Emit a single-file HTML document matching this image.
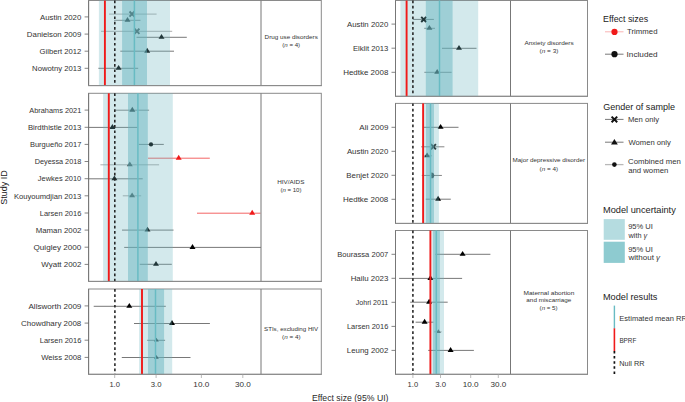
<!DOCTYPE html><html><head><meta charset="utf-8"><style>html,body{margin:0;padding:0;background:#fff;overflow:hidden}svg{display:block}</style></head><body><svg width="685" height="402" viewBox="0 0 685 402" font-family='"Liberation Sans", sans-serif'><rect width="685" height="402" fill="#fff"/><rect x="88.6" y="0.5" width="232.70000000000002" height="85.1" fill="none" stroke="#8a8a8a" stroke-width="1"/><line x1="109" y1="14.1" x2="156.6" y2="14.1" stroke="#999" stroke-width="0.8"/><line x1="114" y1="20.3" x2="140.5" y2="20.3" stroke="#666" stroke-width="0.8"/><line x1="101" y1="31.3" x2="172.2" y2="31.3" stroke="#999" stroke-width="0.8"/><line x1="136.5" y1="37.3" x2="186.8" y2="37.3" stroke="#555" stroke-width="0.8"/><line x1="120.3" y1="51.2" x2="174" y2="51.2" stroke="#555" stroke-width="0.8"/><line x1="98.4" y1="68.3" x2="138.2" y2="68.3" stroke="#555" stroke-width="0.8"/><path d="M129.5 11.5L134.5 16.7M134.5 11.5L129.5 16.7" stroke="#333" stroke-width="1.9"/><path d="M127.5 16.900000000000002L130.5 21.8L124.5 21.8Z" fill="#111"/><path d="M134.4 28.7L139.4 33.9M139.4 28.7L134.4 33.9" stroke="#333" stroke-width="1.9"/><path d="M161.5 33.9L164.5 38.8L158.5 38.8Z" fill="#000"/><path d="M147.2 47.800000000000004L150.2 52.7L144.2 52.7Z" fill="#000"/><path d="M118.6 64.89999999999999L121.6 69.8L115.6 69.8Z" fill="#000"/><rect x="98.9" y="0.5" width="71.1" height="85.1" fill="rgb(108,182,192)" fill-opacity="0.3"/><rect x="122.1" y="0.5" width="24.900000000000006" height="85.1" fill="rgb(100,180,190)" fill-opacity="0.48"/><line x1="134.4" y1="0.5" x2="134.4" y2="85.6" stroke="#68bbc3" stroke-width="1.5"/><line x1="104.9" y1="0.5" x2="104.9" y2="85.6" stroke="#f01a1a" stroke-width="1.9"/><line x1="114.8" y1="0.5" x2="114.8" y2="85.6" stroke="#222" stroke-width="1.55" stroke-dasharray="2.7 2.6"/><line x1="88.6" y1="0.5" x2="88.6" y2="85.6" stroke="#777777" stroke-width="1"/><line x1="261.0" y1="0.5" x2="261.0" y2="85.6" stroke="#777777" stroke-width="1"/><line x1="88.1" y1="85.6" x2="321.8" y2="85.6" stroke="#8a8a8a" stroke-width="1"/><line x1="84.6" y1="16.9" x2="88.6" y2="16.9" stroke="#666" stroke-width="0.8"/><text x="40.00" y="19.65" font-size="7.9" textLength="41.29" lengthAdjust="spacingAndGlyphs" fill="#333333">Austin 2020</text><line x1="84.6" y1="34.1" x2="88.6" y2="34.1" stroke="#666" stroke-width="0.8"/><text x="26.87" y="36.85" font-size="7.9" textLength="54.48" lengthAdjust="spacingAndGlyphs" fill="#333333">Danielson 2009</text><line x1="84.6" y1="51.2" x2="88.6" y2="51.2" stroke="#666" stroke-width="0.8"/><text x="39.62" y="53.95" font-size="7.9" textLength="41.75" lengthAdjust="spacingAndGlyphs" fill="#333333">Gilbert 2012</text><line x1="84.6" y1="68.3" x2="88.6" y2="68.3" stroke="#666" stroke-width="0.8"/><text x="32.08" y="71.05" font-size="7.9" textLength="49.25" lengthAdjust="spacingAndGlyphs" fill="#333333">Nowotny 2013</text><text x="264.60" y="38.60" font-size="5.9" textLength="53.22" lengthAdjust="spacingAndGlyphs" fill="#333">Drug use disorders</text><text x="282.23" y="46.90" font-size="5.9" textLength="17.93" lengthAdjust="spacingAndGlyphs" fill="#333">(<tspan font-style="italic">n</tspan> = 4)</text><rect x="88.6" y="93.3" width="232.70000000000002" height="188.09999999999997" fill="none" stroke="#8a8a8a" stroke-width="1"/><line x1="114.9" y1="110.2" x2="149.1" y2="110.2" stroke="#666" stroke-width="0.8"/><line x1="88.6" y1="127.4" x2="137.5" y2="127.4" stroke="#555" stroke-width="0.8"/><line x1="138.8" y1="144.4" x2="163.8" y2="144.4" stroke="#555" stroke-width="0.8"/><line x1="148" y1="158.2" x2="209.8" y2="158.2" stroke="#f03c3c" stroke-width="0.8"/><line x1="100.4" y1="164.8" x2="159.1" y2="164.8" stroke="#999" stroke-width="0.8"/><line x1="88.6" y1="178.8" x2="142.7" y2="178.8" stroke="#555" stroke-width="0.8"/><line x1="122.8" y1="195.8" x2="141.2" y2="195.8" stroke="#999" stroke-width="0.8"/><line x1="197" y1="213.2" x2="260.5" y2="213.2" stroke="#f03c3c" stroke-width="0.8"/><line x1="122" y1="230.1" x2="173.5" y2="230.1" stroke="#555" stroke-width="0.8"/><line x1="124.2" y1="247.4" x2="261" y2="247.4" stroke="#555" stroke-width="0.8"/><line x1="139.8" y1="264.3" x2="171.8" y2="264.3" stroke="#555" stroke-width="0.8"/><path d="M132.3 106.8L135.3 111.7L129.3 111.7Z" fill="#111"/><path d="M112.4 124.0L115.4 128.9L109.4 128.9Z" fill="#000"/><circle cx="151.0" cy="144.4" r="2.1" fill="#000"/><path d="M178.7 154.79999999999998L181.7 159.7L175.7 159.7Z" fill="#f01a1a"/><path d="M129.8 161.4L132.8 166.3L126.80000000000001 166.3Z" fill="#333"/><path d="M114.4 175.4L117.4 180.3L111.4 180.3Z" fill="#000"/><path d="M132.1 192.4L135.1 197.3L129.1 197.3Z" fill="#333"/><path d="M252.2 209.79999999999998L255.2 214.7L249.2 214.7Z" fill="#f01a1a"/><path d="M147.5 226.7L150.5 231.6L144.5 231.6Z" fill="#000"/><path d="M192.5 244.0L195.5 248.9L189.5 248.9Z" fill="#000"/><path d="M156.0 260.90000000000003L159.0 265.8L153.0 265.8Z" fill="#000"/><rect x="103.1" y="93.3" width="69.70000000000002" height="188.09999999999997" fill="rgb(108,182,192)" fill-opacity="0.3"/><rect x="128.0" y="93.3" width="19.80000000000001" height="188.09999999999997" fill="rgb(100,180,190)" fill-opacity="0.48"/><line x1="137.9" y1="93.3" x2="137.9" y2="281.4" stroke="#68bbc3" stroke-width="1.5"/><line x1="108.8" y1="93.3" x2="108.8" y2="281.4" stroke="#f01a1a" stroke-width="1.9"/><line x1="114.8" y1="93.3" x2="114.8" y2="281.4" stroke="#222" stroke-width="1.55" stroke-dasharray="2.7 2.6"/><line x1="88.6" y1="93.3" x2="88.6" y2="281.4" stroke="#777777" stroke-width="1"/><line x1="261.0" y1="93.3" x2="261.0" y2="281.4" stroke="#777777" stroke-width="1"/><line x1="88.1" y1="281.4" x2="321.8" y2="281.4" stroke="#8a8a8a" stroke-width="1"/><line x1="84.6" y1="110.1" x2="88.6" y2="110.1" stroke="#666" stroke-width="0.8"/><text x="29.30" y="112.85" font-size="7.9" textLength="52.03" lengthAdjust="spacingAndGlyphs" fill="#333333">Abrahams 2021</text><line x1="84.6" y1="127.3" x2="88.6" y2="127.3" stroke="#666" stroke-width="0.8"/><text x="27.88" y="130.05" font-size="7.9" textLength="53.46" lengthAdjust="spacingAndGlyphs" fill="#333333">Birdthistle 2013</text><line x1="84.6" y1="144.4" x2="88.6" y2="144.4" stroke="#666" stroke-width="0.8"/><text x="29.90" y="147.15" font-size="7.9" textLength="51.44" lengthAdjust="spacingAndGlyphs" fill="#333333">Burgueño 2017</text><line x1="84.6" y1="161.5" x2="88.6" y2="161.5" stroke="#666" stroke-width="0.8"/><text x="34.72" y="164.25" font-size="7.9" textLength="46.60" lengthAdjust="spacingAndGlyphs" fill="#333333">Deyessa 2018</text><line x1="84.6" y1="178.7" x2="88.6" y2="178.7" stroke="#666" stroke-width="0.8"/><text x="37.79" y="181.45" font-size="7.9" textLength="43.49" lengthAdjust="spacingAndGlyphs" fill="#333333">Jewkes 2010</text><line x1="84.6" y1="195.8" x2="88.6" y2="195.8" stroke="#666" stroke-width="0.8"/><text x="13.89" y="198.55" font-size="7.9" textLength="67.42" lengthAdjust="spacingAndGlyphs" fill="#333333">Kouyoumdjian 2013</text><line x1="84.6" y1="213.0" x2="88.6" y2="213.0" stroke="#666" stroke-width="0.8"/><text x="39.80" y="215.75" font-size="7.9" textLength="41.50" lengthAdjust="spacingAndGlyphs" fill="#333333">Larsen 2016</text><line x1="84.6" y1="230.1" x2="88.6" y2="230.1" stroke="#666" stroke-width="0.8"/><text x="35.67" y="232.85" font-size="7.9" textLength="45.70" lengthAdjust="spacingAndGlyphs" fill="#333333">Maman 2002</text><line x1="84.6" y1="247.2" x2="88.6" y2="247.2" stroke="#666" stroke-width="0.8"/><text x="33.54" y="249.95" font-size="7.9" textLength="47.77" lengthAdjust="spacingAndGlyphs" fill="#333333">Quigley 2000</text><line x1="84.6" y1="264.4" x2="88.6" y2="264.4" stroke="#666" stroke-width="0.8"/><text x="41.36" y="267.15" font-size="7.9" textLength="39.99" lengthAdjust="spacingAndGlyphs" fill="#333333">Wyatt 2002</text><text x="277.29" y="184.40" font-size="5.9" textLength="27.08" lengthAdjust="spacingAndGlyphs" fill="#333">HIV/AIDS</text><text x="280.44" y="192.00" font-size="5.9" textLength="21.02" lengthAdjust="spacingAndGlyphs" fill="#333">(<tspan font-style="italic">n</tspan> = 10)</text><rect x="88.6" y="289.0" width="232.70000000000002" height="85.30000000000001" fill="none" stroke="#8a8a8a" stroke-width="1"/><line x1="93.7" y1="306.3" x2="165.8" y2="306.3" stroke="#555" stroke-width="0.8"/><line x1="134" y1="323.5" x2="209.9" y2="323.5" stroke="#555" stroke-width="0.8"/><line x1="147.2" y1="340.3" x2="165.1" y2="340.3" stroke="#555" stroke-width="0.8"/><line x1="121.8" y1="357.5" x2="190.5" y2="357.5" stroke="#555" stroke-width="0.8"/><path d="M129.3 302.90000000000003L132.3 307.8L126.30000000000001 307.8Z" fill="#000"/><path d="M172.0 320.1L175.0 325.0L169.0 325.0Z" fill="#000"/><path d="M156.4 337.7L158.8 341.6L154.0 341.6Z" fill="#000"/><path d="M156.4 354.9L158.8 358.8L154.0 358.8Z" fill="#000"/><rect x="139.1" y="289.0" width="33.099999999999994" height="85.30000000000001" fill="rgb(108,182,192)" fill-opacity="0.3"/><rect x="148.0" y="289.0" width="16.099999999999994" height="85.30000000000001" fill="rgb(100,180,190)" fill-opacity="0.48"/><line x1="155.5" y1="289.0" x2="155.5" y2="374.3" stroke="#68bbc3" stroke-width="1.5"/><line x1="142.0" y1="289.0" x2="142.0" y2="374.3" stroke="#f01a1a" stroke-width="1.9"/><line x1="114.9" y1="289.0" x2="114.9" y2="374.3" stroke="#222" stroke-width="1.55" stroke-dasharray="2.7 2.6"/><line x1="88.6" y1="289.0" x2="88.6" y2="374.3" stroke="#777777" stroke-width="1"/><line x1="261.0" y1="289.0" x2="261.0" y2="374.3" stroke="#777777" stroke-width="1"/><line x1="88.1" y1="374.3" x2="321.8" y2="374.3" stroke="#8a8a8a" stroke-width="1"/><line x1="84.6" y1="305.9" x2="88.6" y2="305.9" stroke="#666" stroke-width="0.8"/><text x="28.50" y="308.65" font-size="7.9" textLength="52.86" lengthAdjust="spacingAndGlyphs" fill="#333333">Allsworth 2009</text><line x1="84.6" y1="323.1" x2="88.6" y2="323.1" stroke="#666" stroke-width="0.8"/><text x="21.10" y="325.85" font-size="7.9" textLength="60.22" lengthAdjust="spacingAndGlyphs" fill="#333333">Chowdhary 2008</text><line x1="84.6" y1="340.2" x2="88.6" y2="340.2" stroke="#666" stroke-width="0.8"/><text x="39.80" y="342.95" font-size="7.9" textLength="41.50" lengthAdjust="spacingAndGlyphs" fill="#333333">Larsen 2016</text><line x1="84.6" y1="357.4" x2="88.6" y2="357.4" stroke="#666" stroke-width="0.8"/><text x="41.16" y="360.15" font-size="7.9" textLength="40.16" lengthAdjust="spacingAndGlyphs" fill="#333333">Weiss 2008</text><text x="264.02" y="330.80" font-size="5.9" textLength="54.19" lengthAdjust="spacingAndGlyphs" fill="#333">STIs, excluding HIV</text><text x="282.12" y="338.50" font-size="5.9" textLength="18.45" lengthAdjust="spacingAndGlyphs" fill="#333">(<tspan font-style="italic">n</tspan> = 4)</text><rect x="395.5" y="0.5" width="192.0" height="95.8" fill="none" stroke="#8a8a8a" stroke-width="1"/><line x1="412.7" y1="19.4" x2="433.9" y2="19.4" stroke="#555" stroke-width="0.8"/><line x1="424.2" y1="28.3" x2="435" y2="28.3" stroke="#666" stroke-width="0.8"/><line x1="442" y1="48.3" x2="476.5" y2="48.3" stroke="#555" stroke-width="0.8"/><line x1="424.3" y1="72.3" x2="451.6" y2="72.3" stroke="#666" stroke-width="0.8"/><path d="M421.2 16.799999999999997L426.2 22.0M426.2 16.799999999999997L421.2 22.0" stroke="#000" stroke-width="1.9"/><path d="M429.4 24.900000000000002L432.4 29.8L426.4 29.8Z" fill="#111"/><path d="M459 44.9L462.0 49.8L456.0 49.8Z" fill="#000"/><path d="M437.2 68.89999999999999L440.2 73.8L434.2 73.8Z" fill="#111"/><rect x="400.4" y="0.5" width="77.80000000000001" height="95.8" fill="rgb(108,182,192)" fill-opacity="0.3"/><rect x="425.8" y="0.5" width="26.80000000000001" height="95.8" fill="rgb(100,180,190)" fill-opacity="0.48"/><line x1="439.5" y1="0.5" x2="439.5" y2="96.3" stroke="#68bbc3" stroke-width="1.5"/><line x1="406.6" y1="0.5" x2="406.6" y2="96.3" stroke="#f01a1a" stroke-width="1.9"/><line x1="412.9" y1="0.5" x2="412.9" y2="96.3" stroke="#222" stroke-width="1.55" stroke-dasharray="2.7 2.6"/><line x1="395.5" y1="0.5" x2="395.5" y2="96.3" stroke="#777777" stroke-width="1"/><line x1="510.5" y1="0.5" x2="510.5" y2="96.3" stroke="#777777" stroke-width="1"/><line x1="395.0" y1="96.3" x2="588.0" y2="96.3" stroke="#8a8a8a" stroke-width="1"/><line x1="391.5" y1="24.1" x2="395.5" y2="24.1" stroke="#666" stroke-width="0.8"/><text x="347.00" y="26.85" font-size="7.9" textLength="41.29" lengthAdjust="spacingAndGlyphs" fill="#333333">Austin 2020</text><line x1="391.5" y1="48.2" x2="395.5" y2="48.2" stroke="#666" stroke-width="0.8"/><text x="352.89" y="50.95" font-size="7.9" textLength="35.41" lengthAdjust="spacingAndGlyphs" fill="#333333">Elklit 2013</text><line x1="391.5" y1="72.3" x2="395.5" y2="72.3" stroke="#666" stroke-width="0.8"/><text x="343.16" y="75.05" font-size="7.9" textLength="45.16" lengthAdjust="spacingAndGlyphs" fill="#333333">Hedtke 2008</text><text x="524.40" y="45.30" font-size="5.9" textLength="49.33" lengthAdjust="spacingAndGlyphs" fill="#333">Anxiety disorders</text><text x="539.61" y="53.00" font-size="5.9" textLength="18.76" lengthAdjust="spacingAndGlyphs" fill="#333">(<tspan font-style="italic">n</tspan> = 3)</text><rect x="395.5" y="103.4" width="192.0" height="120.0" fill="none" stroke="#8a8a8a" stroke-width="1"/><line x1="423.1" y1="127.3" x2="458.5" y2="127.3" stroke="#555" stroke-width="0.8"/><line x1="421.2" y1="146.8" x2="444.4" y2="146.8" stroke="#666" stroke-width="0.8"/><line x1="424.3" y1="155.8" x2="431.8" y2="155.8" stroke="#666" stroke-width="0.8"/><line x1="421.8" y1="175.45" x2="441.9" y2="175.45" stroke="#666" stroke-width="0.8"/><line x1="425.8" y1="199.2" x2="450.8" y2="199.2" stroke="#555" stroke-width="0.8"/><path d="M440.6 123.89999999999999L443.6 128.8L437.6 128.8Z" fill="#000"/><path d="M430.9 144.20000000000002L435.9 149.4M435.9 144.20000000000002L430.9 149.4" stroke="#111" stroke-width="1.9"/><path d="M427.1 152.4L430.1 157.3L424.1 157.3Z" fill="#111"/><path d="M431.3 172.54999999999998A2.9 2.9 0 0 1 431.3 178.35Z" fill="#111"/><path d="M438.1 195.79999999999998L441.1 200.7L435.1 200.7Z" fill="#000"/><rect x="423.9" y="103.4" width="15.0" height="120.0" fill="rgb(108,182,192)" fill-opacity="0.3"/><rect x="426.0" y="103.4" width="8.0" height="120.0" fill="rgb(100,180,190)" fill-opacity="0.48"/><line x1="430.5" y1="103.4" x2="430.5" y2="223.4" stroke="#68bbc3" stroke-width="1.5"/><line x1="423.1" y1="103.4" x2="423.1" y2="223.4" stroke="#f01a1a" stroke-width="1.9"/><line x1="412.9" y1="103.4" x2="412.9" y2="223.4" stroke="#222" stroke-width="1.55" stroke-dasharray="2.7 2.6"/><line x1="395.5" y1="103.4" x2="395.5" y2="223.4" stroke="#777777" stroke-width="1"/><line x1="510.5" y1="103.4" x2="510.5" y2="223.4" stroke="#777777" stroke-width="1"/><line x1="395.0" y1="223.4" x2="588.0" y2="223.4" stroke="#8a8a8a" stroke-width="1"/><line x1="391.5" y1="127.3" x2="395.5" y2="127.3" stroke="#666" stroke-width="0.8"/><text x="359.30" y="130.05" font-size="7.9" textLength="29.05" lengthAdjust="spacingAndGlyphs" fill="#333333">Ali 2009</text><line x1="391.5" y1="151.3" x2="395.5" y2="151.3" stroke="#666" stroke-width="0.8"/><text x="346.90" y="154.05" font-size="7.9" textLength="41.39" lengthAdjust="spacingAndGlyphs" fill="#333333">Austin 2020</text><line x1="391.5" y1="175.3" x2="395.5" y2="175.3" stroke="#666" stroke-width="0.8"/><text x="346.27" y="178.05" font-size="7.9" textLength="42.03" lengthAdjust="spacingAndGlyphs" fill="#333333">Benjet 2020</text><line x1="391.5" y1="199.3" x2="395.5" y2="199.3" stroke="#666" stroke-width="0.8"/><text x="342.96" y="202.05" font-size="7.9" textLength="45.37" lengthAdjust="spacingAndGlyphs" fill="#333333">Hedtke 2008</text><text x="512.50" y="161.70" font-size="5.9" textLength="72.60" lengthAdjust="spacingAndGlyphs" fill="#333">Major depressive disorder</text><text x="539.62" y="171.00" font-size="5.9" textLength="18.55" lengthAdjust="spacingAndGlyphs" fill="#333">(<tspan font-style="italic">n</tspan> = 4)</text><rect x="395.5" y="230.5" width="192.0" height="143.8" fill="none" stroke="#8a8a8a" stroke-width="1"/><line x1="435.3" y1="254.3" x2="490.4" y2="254.3" stroke="#555" stroke-width="0.8"/><line x1="399.1" y1="278.4" x2="462.1" y2="278.4" stroke="#555" stroke-width="0.8"/><line x1="410.2" y1="302.2" x2="447.7" y2="302.2" stroke="#555" stroke-width="0.8"/><line x1="415.6" y1="322.2" x2="433.5" y2="322.2" stroke="#555" stroke-width="0.8"/><line x1="434.2" y1="331.8" x2="441.6" y2="331.8" stroke="#999" stroke-width="0.8"/><line x1="428.2" y1="350.4" x2="473.9" y2="350.4" stroke="#555" stroke-width="0.8"/><path d="M462.6 250.9L465.6 255.8L459.6 255.8Z" fill="#000"/><path d="M430.4 275.0L433.4 279.9L427.4 279.9Z" fill="#000"/><path d="M429.1 298.8L432.1 303.7L426.1 303.7Z" fill="#000"/><path d="M424.6 318.8L427.6 323.7L421.6 323.7Z" fill="#000"/><path d="M438.4 329.2L440.79999999999995 333.1L436.0 333.1Z" fill="#333"/><path d="M450.6 347.0L453.6 351.9L447.6 351.9Z" fill="#000"/><rect x="431.5" y="230.5" width="12.5" height="143.8" fill="rgb(108,182,192)" fill-opacity="0.3"/><rect x="433.0" y="230.5" width="6.899999999999977" height="143.8" fill="rgb(100,180,190)" fill-opacity="0.48"/><line x1="436.3" y1="230.5" x2="436.3" y2="374.3" stroke="#68bbc3" stroke-width="1.5"/><line x1="430.4" y1="230.5" x2="430.4" y2="374.3" stroke="#f01a1a" stroke-width="1.9"/><line x1="412.9" y1="230.5" x2="412.9" y2="374.3" stroke="#222" stroke-width="1.55" stroke-dasharray="2.7 2.6"/><line x1="395.5" y1="230.5" x2="395.5" y2="374.3" stroke="#777777" stroke-width="1"/><line x1="510.5" y1="230.5" x2="510.5" y2="374.3" stroke="#777777" stroke-width="1"/><line x1="395.0" y1="374.3" x2="588.0" y2="374.3" stroke="#8a8a8a" stroke-width="1"/><line x1="391.5" y1="254.3" x2="395.5" y2="254.3" stroke="#666" stroke-width="0.8"/><text x="337.29" y="257.05" font-size="7.9" textLength="51.07" lengthAdjust="spacingAndGlyphs" fill="#333333">Bourassa 2007</text><line x1="391.5" y1="278.3" x2="395.5" y2="278.3" stroke="#666" stroke-width="0.8"/><text x="350.67" y="281.05" font-size="7.9" textLength="37.66" lengthAdjust="spacingAndGlyphs" fill="#333333">Hailu 2023</text><line x1="391.5" y1="302.3" x2="395.5" y2="302.3" stroke="#666" stroke-width="0.8"/><text x="355.69" y="305.05" font-size="7.9" textLength="32.63" lengthAdjust="spacingAndGlyphs" fill="#333333">Johri 2011</text><line x1="391.5" y1="326.4" x2="395.5" y2="326.4" stroke="#666" stroke-width="0.8"/><text x="346.90" y="329.15" font-size="7.9" textLength="41.40" lengthAdjust="spacingAndGlyphs" fill="#333333">Larsen 2016</text><line x1="391.5" y1="350.4" x2="395.5" y2="350.4" stroke="#666" stroke-width="0.8"/><text x="346.87" y="353.15" font-size="7.9" textLength="41.51" lengthAdjust="spacingAndGlyphs" fill="#333333">Leung 2002</text><text x="523.48" y="294.70" font-size="5.9" textLength="50.93" lengthAdjust="spacingAndGlyphs" fill="#333">Maternal abortion</text><text x="526.35" y="302.00" font-size="5.9" textLength="45.00" lengthAdjust="spacingAndGlyphs" fill="#333">and miscarriage</text><text x="539.63" y="309.90" font-size="5.9" textLength="17.93" lengthAdjust="spacingAndGlyphs" fill="#333">(<tspan font-style="italic">n</tspan> = 5)</text><line x1="114.7" y1="374.5" x2="114.7" y2="378" stroke="#aaa" stroke-width="0.8"/><text x="109.38" y="387.00" font-size="8.0" textLength="10.53" lengthAdjust="spacingAndGlyphs" fill="#333333">1.0</text><line x1="156.1" y1="374.5" x2="156.1" y2="378" stroke="#aaa" stroke-width="0.8"/><text x="150.80" y="387.00" font-size="8.0" textLength="10.74" lengthAdjust="spacingAndGlyphs" fill="#333333">3.0</text><line x1="201.4" y1="374.5" x2="201.4" y2="378" stroke="#aaa" stroke-width="0.8"/><text x="193.39" y="387.00" font-size="8.0" textLength="15.91" lengthAdjust="spacingAndGlyphs" fill="#333333">10.0</text><line x1="242.8" y1="374.5" x2="242.8" y2="378" stroke="#aaa" stroke-width="0.8"/><text x="234.98" y="387.00" font-size="8.0" textLength="15.78" lengthAdjust="spacingAndGlyphs" fill="#333333">30.0</text><line x1="412.9" y1="374.5" x2="412.9" y2="378" stroke="#aaa" stroke-width="0.8"/><text x="407.58" y="387.00" font-size="8.0" textLength="10.53" lengthAdjust="spacingAndGlyphs" fill="#333333">1.0</text><line x1="440.5" y1="374.5" x2="440.5" y2="378" stroke="#aaa" stroke-width="0.8"/><text x="435.21" y="387.00" font-size="8.0" textLength="10.74" lengthAdjust="spacingAndGlyphs" fill="#333333">3.0</text><line x1="470.7" y1="374.5" x2="470.7" y2="378" stroke="#aaa" stroke-width="0.8"/><text x="462.69" y="387.00" font-size="8.0" textLength="15.91" lengthAdjust="spacingAndGlyphs" fill="#333333">10.0</text><line x1="498.3" y1="374.5" x2="498.3" y2="378" stroke="#aaa" stroke-width="0.8"/><text x="490.49" y="387.00" font-size="8.0" textLength="15.78" lengthAdjust="spacingAndGlyphs" fill="#333333">30.0</text><text x="311.91" y="400.90" font-size="8.8" textLength="76.60" lengthAdjust="spacingAndGlyphs" fill="#2a2a2a">Effect size (95% UI)</text><g transform="translate(7.3,187.5) rotate(-90)"><text x="0" y="0" text-anchor="middle" font-size="9" fill="#222">Study ID</text></g><text x="602.99" y="22.00" font-size="9.8" textLength="45.12" lengthAdjust="spacingAndGlyphs" fill="#222">Effect sizes</text><line x1="605" y1="31.8" x2="623.5" y2="31.8" stroke="#f7a0a0" stroke-width="0.8"/><circle cx="614.5" cy="31.9" r="3.1" fill="#f01a1a"/><text x="627.04" y="34.40" font-size="8.0" textLength="30.44" lengthAdjust="spacingAndGlyphs" fill="#333333">Trimmed</text><line x1="605" y1="54.2" x2="623.5" y2="54.2" stroke="#555" stroke-width="0.8"/><circle cx="614.5" cy="54.2" r="3.1" fill="#111"/><text x="626.56" y="56.80" font-size="8.0" textLength="31.04" lengthAdjust="spacingAndGlyphs" fill="#333333">Included</text><text x="603.25" y="109.60" font-size="9.8" textLength="71.70" lengthAdjust="spacingAndGlyphs" fill="#222">Gender of sample</text><line x1="605" y1="119.4" x2="623.5" y2="119.4" stroke="#555" stroke-width="0.8"/><path d="M611.6 116.6L617.2 122.2M617.2 116.6L611.6 122.2" stroke="#111" stroke-width="2"/><text x="627.88" y="122.00" font-size="8.0" textLength="31.20" lengthAdjust="spacingAndGlyphs" fill="#333333">Men only</text><line x1="605" y1="142.2" x2="623.5" y2="142.2" stroke="#555" stroke-width="0.8"/><path d="M614.4 138.9L617.8 144.4L611.0 144.4Z" fill="#111"/><text x="628.46" y="144.80" font-size="8.0" textLength="42.34" lengthAdjust="spacingAndGlyphs" fill="#333333">Women only</text><line x1="605" y1="164.6" x2="623.5" y2="164.6" stroke="#b8b8b8" stroke-width="1.3"/><circle cx="614.4" cy="164.6" r="2.3" fill="#111"/><text x="628.11" y="164.30" font-size="8.0" textLength="52.67" lengthAdjust="spacingAndGlyphs" fill="#333333">Combined men</text><text x="628.19" y="173.00" font-size="8.0" textLength="40.08" lengthAdjust="spacingAndGlyphs" fill="#333333">and women</text><text x="602.96" y="212.80" font-size="9.8" textLength="72.82" lengthAdjust="spacingAndGlyphs" fill="#222">Model uncertainty</text><rect x="603.7" y="219.1" width="21.1" height="20.7" fill="#b5dce0"/><rect x="603.7" y="241.7" width="21.1" height="21.2" fill="#8ecbd0"/><text x="628.16" y="229.40" font-size="8.0" textLength="24.75" lengthAdjust="spacingAndGlyphs" fill="#333333">95% UI</text><text x="628.54" y="238.20" font-size="8.0" textLength="18.67" lengthAdjust="spacingAndGlyphs" fill="#333333">with <tspan font-style="italic">γ</tspan></text><text x="628.16" y="251.80" font-size="8.0" textLength="24.75" lengthAdjust="spacingAndGlyphs" fill="#333333">95% UI</text><text x="628.54" y="260.40" font-size="8.0" textLength="31.57" lengthAdjust="spacingAndGlyphs" fill="#333333">without <tspan font-style="italic">γ</tspan></text><text x="602.97" y="299.80" font-size="9.8" textLength="54.47" lengthAdjust="spacingAndGlyphs" fill="#222">Model results</text><line x1="614.4" y1="305.6" x2="614.4" y2="328.5" stroke="#68bbc3" stroke-width="1.4"/><line x1="614.4" y1="328.3" x2="614.4" y2="351.3" stroke="#f01a1a" stroke-width="1.6"/><line x1="614.4" y1="351" x2="614.4" y2="374" stroke="#111" stroke-width="1.7" stroke-dasharray="2.5 2.6"/><text x="619.30" y="320.90" font-size="8.0" textLength="67.57" lengthAdjust="spacingAndGlyphs" fill="#333333">Estimated mean RR</text><text x="619.39" y="343.20" font-size="8.0" textLength="16.87" lengthAdjust="spacingAndGlyphs" fill="#333333">BPRF</text><text x="619.32" y="365.60" font-size="8.0" textLength="25.11" lengthAdjust="spacingAndGlyphs" fill="#333333">Null RR</text></svg></body></html>
